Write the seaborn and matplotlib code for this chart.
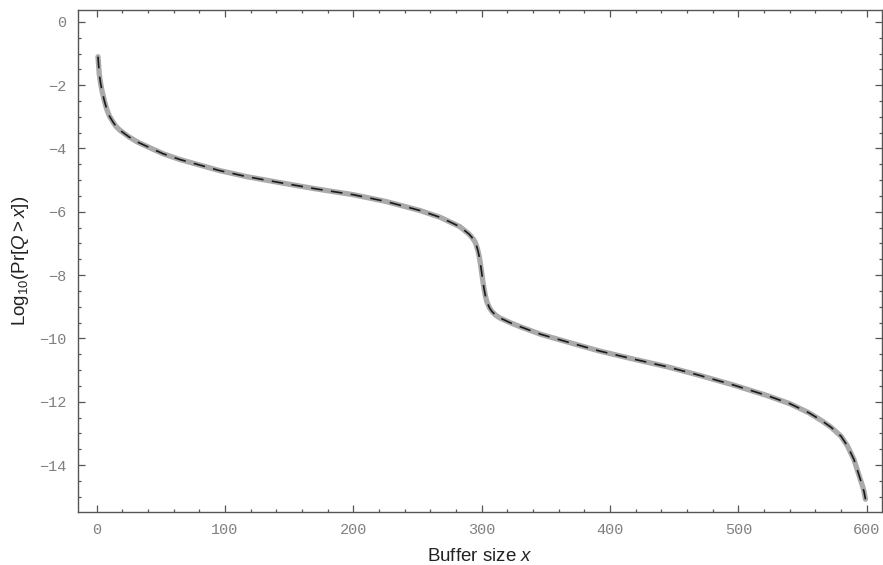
import matplotlib
matplotlib.use("Agg")
import matplotlib.pyplot as plt
from matplotlib.ticker import MultipleLocator
import seaborn as sns
import pandas as pd

# Curve (buffer size vs log10 overflow probability)
buffer_size = [1, 2, 3, 4, 6, 8, 10, 12.5, 15, 18, 25, 32, 40, 52, 65, 80,
               95, 117, 143, 170, 200, 225, 252, 268, 283, 290, 292, 294,
               295, 296, 297, 298, 299, 300, 301, 302, 303, 304, 306, 308,
               311, 314, 322, 330, 346, 370, 392, 418, 445, 470, 496, 522,
               540, 555, 565, 572, 580, 585, 590, 595, 597, 598, 599]
log_prob = [-1.1, -1.65, -1.93, -2.15, -2.5, -2.78, -2.98, -3.15, -3.3,
            -3.42, -3.63, -3.8, -3.95, -4.17, -4.35, -4.52, -4.69, -4.89,
            -5.08, -5.27, -5.46, -5.67, -5.96, -6.18, -6.47, -6.7, -6.79,
            -6.9, -6.97, -7.08, -7.22, -7.4, -7.64, -7.93, -8.22, -8.47,
            -8.68, -8.84, -9.03, -9.15, -9.27, -9.35, -9.5, -9.63, -9.87,
            -10.15, -10.4, -10.65, -10.9, -11.17, -11.47, -11.8, -12.06,
            -12.35, -12.6, -12.8, -13.09, -13.4, -13.82, -14.45, -14.7,
            -14.86, -15.08]

df = pd.DataFrame({"x": buffer_size, "y": log_prob})

sns.set_theme(style="ticks")
plt.rcParams["font.family"] = ["Liberation Sans", "DejaVu Sans"]
plt.rcParams["mathtext.fontset"] = "custom"
plt.rcParams["mathtext.rm"] = "Liberation Sans"
plt.rcParams["mathtext.it"] = "Liberation Sans:italic"

fig = plt.figure(figsize=(8.83, 5.65), dpi=100)
ax = fig.add_axes([0.088, 0.094, 0.911, 0.888])

# exact curve (thick gray) and approximation (black dashes) overlap
sns.lineplot(data=df, x="x", y="y", ax=ax, color="#aaaaaa", linewidth=3.8,
             sort=False, solid_capstyle="round")
sns.lineplot(data=df, x="x", y="y", ax=ax, color="#1a1a1a", linewidth=1.2,
             sort=False, dashes=False, linestyle=(0, (7, 5)))

ax.set_xlim(-14.8, 612)
ax.set_ylim(-15.48, 0.37)
ax.xaxis.set_major_locator(MultipleLocator(100))
ax.xaxis.set_minor_locator(MultipleLocator(20))
ax.yaxis.set_major_locator(MultipleLocator(2))
ax.yaxis.set_minor_locator(MultipleLocator(0.5))

for side in ["left", "bottom", "top", "right"]:
    ax.spines[side].set_visible(True)
    ax.spines[side].set_color("#555555")
    ax.spines[side].set_linewidth(1.0)

ax.tick_params(which="both", direction="in", top=True, right=True,
               color="#555555", width=0.9)
ax.tick_params(which="major", length=5, pad=8, labelsize=11,
               labelcolor="#808080")
ax.tick_params(which="minor", length=2.5)
for lab in ax.get_xticklabels() + ax.get_yticklabels():
    lab.set_family("Liberation Mono")

ax.set_xlabel(r"Buffer size $x$", fontsize=13.5, color="#222222", labelpad=8)
ax.set_ylabel(r"Log$_{10}$(Pr[$Q > x$])", fontsize=13.5, color="#222222",
              labelpad=6)

fig.savefig("out.png", dpi=100)
